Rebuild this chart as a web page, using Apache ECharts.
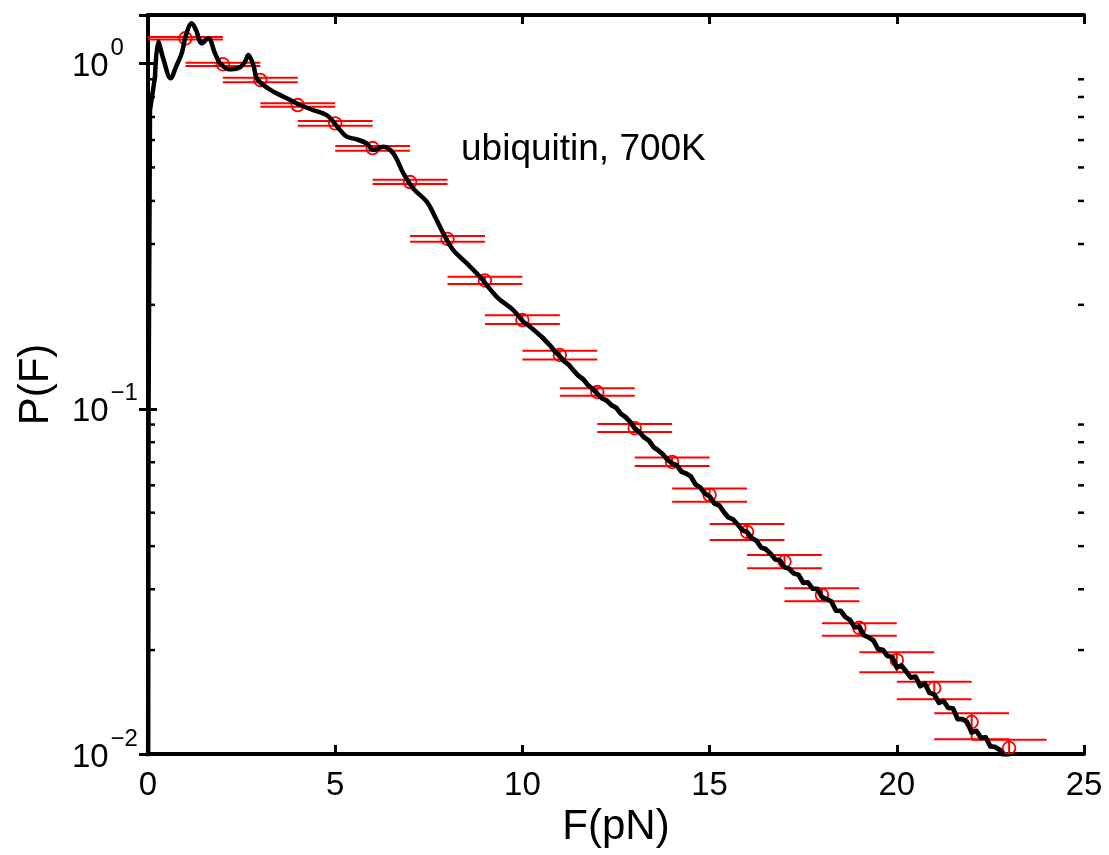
<!DOCTYPE html>
<html>
<head>
<meta charset="utf-8">
<script src="https://cdn.jsdelivr.net/npm/echarts@6/dist/echarts.min.js"></script>
<style>html,body{margin:0;padding:0;background:#fff}#c{width:1109px;height:855px}</style>
</head>
<body>
<div id="c"></div>
<script>
// ---------- data ----------
const xTicks = [0, 5, 10, 15, 20, 25];
const yMajorTicks = [0.01, 0.1, 1];
const minorTicks = [0.02,0.03,0.04,0.05,0.06,0.07,0.08,0.09,0.2,0.3,0.4,0.5,0.6,0.7,0.8,0.9];

const errX = [1,2,3,4,5,6,7,8,9,10,11,12,13,14,15,16,17,18,19,20,21,22,23];
const errCenter = [1.183,0.995,0.896,0.758,0.671,0.569,0.4536,0.3102,0.2352,0.1807,0.1431,0.1118,0.0879,0.0701,0.0563,0.0440,0.0361,0.0289,0.0232,0.0187,0.01553,0.01238,0.01041];
const errHigh   = [1.193,1.0053,0.910,0.767,0.682,0.577,0.4607,0.3165,0.2412,0.1865,0.1473,0.1146,0.0903,0.0722,0.0588,0.0464,0.0377,0.0302,0.0239,0.0197,0.01620,0.01312,0.01100];
const errLow    = [1.173,0.9835,0.882,0.750,0.660,0.559,0.4477,0.3047,0.2298,0.1759,0.1390,0.1091,0.0856,0.0683,0.0538,0.0417,0.0345,0.0277,0.0220,0.01725,0.01440,0.01103,0.00963];

// smooth low-force part of the P(F) curve
const headX = [0.0,0.015,0.053,0.187,0.275,0.41,0.606,0.75,0.900,1.015,1.167,1.282,1.434,1.611,1.790,1.923,2.102,2.236,2.457,2.591,2.679,2.813,2.903,3.080,3.347,3.705,4.060,4.415,4.773,4.949,5.128,5.307,5.574,5.841,6.018,6.285,6.552,6.819,7.086,7.444,7.666,7.887,8.154,8.512,8.868,9.314,9.757,10.024,10.203,10.558];
const headY = [0.004,0.1,0.733,0.915,1.157,1.03,0.906,0.98,1.070,1.209,1.307,1.25,1.144,1.183,1.070,1.001,0.968,0.962,0.975,1.012,1.058,0.990,0.906,0.866,0.829,0.793,0.758,0.733,0.709,0.678,0.642,0.614,0.603,0.587,0.562,0.574,0.549,0.481,0.434,0.398,0.360,0.322,0.288,0.264,0.241,0.211,0.193,0.1787,0.1728,0.160];
// noisy high-force tail of the curve
const tailX = [10.558,10.625,10.75,10.875,11.0,11.125,11.25,11.375,11.5,11.625,11.75,11.875,12.0,12.125,12.25,12.375,12.5,12.625,12.75,12.875,13.0,13.125,13.25,13.375,13.5,13.625,13.75,13.875,14.0,14.125,14.25,14.375,14.5,14.625,14.75,14.875,15.0,15.125,15.25,15.375,15.5,15.625,15.75,15.875,16.0,16.125,16.25,16.375,16.5,16.625,16.75,16.875,17.0,17.125,17.25,17.375,17.5,17.625,17.75,17.875,18.0,18.125,18.25,18.375,18.5,18.625,18.75,18.875,19.0,19.125,19.25,19.375,19.5,19.625,19.75,19.875,20.0,20.125,20.25,20.375,20.5,20.625,20.75,20.875,21.0,21.125,21.25,21.375,21.5,21.625,21.75,21.875,22.0,22.125,22.25,22.375,22.5,22.625,22.75,22.875,23.0];
const tailY = [0.160,0.1571,0.1521,0.1462,0.1418,0.1369,0.1337,0.1287,0.1245,0.1217,0.1172,0.1141,0.1106,0.1072,0.1057,0.1025,0.1008,0.09679,0.09465,0.09178,0.08767,0.08564,0.08264,0.08093,0.07753,0.07584,0.07382,0.07122,0.06941,0.06858,0.06569,0.06493,0.06366,0.06035,0.05917,0.05682,0.05571,0.05320,0.05258,0.05033,0.04847,0.04781,0.04620,0.04444,0.04395,0.04218,0.04149,0.03964,0.03921,0.03807,0.03663,0.03641,0.03473,0.03440,0.03334,0.03304,0.03132,0.03143,0.03012,0.03009,0.02850,0.02810,0.02767,0.02601,0.02599,0.02493,0.02445,0.02328,0.02339,0.02206,0.02176,0.02134,0.02013,0.02004,0.01923,0.01910,0.01780,0.01804,0.01734,0.01664,0.01676,0.01572,0.01599,0.01504,0.01488,0.01408,0.01424,0.01360,0.01356,0.01263,0.01262,0.01239,0.01154,0.01167,0.01114,0.01117,0.01052,0.01048,0.01028,0.00980,0.00969];

const annotation = 'ubiquitin, 700K';
const xName = 'F(pN)';
const yName = 'P(F)';

// ---------- chart ----------
const FONT = '"Liberation Sans", Arial, Helvetica, sans-serif';
const capHalf = 1;
const smoothFrom = 3;   // index in head where the smoothed part starts
const chart = echarts.init(document.getElementById('c'), null, {renderer: 'canvas'});

const headPts = headX.map((x, i) => [x, headY[i]]);
const tailPts = tailX.map((x, i) => [x, tailY[i]]);
function curveSeries(data, smooth, width) {
  return {
    type: 'line', xAxisIndex: 0, yAxisIndex: 0, z: 4,
    data: data, showSymbol: false, symbol: 'none', smooth: smooth, clip: true,
    lineStyle: {color: '#000', width: width, join: 'round', cap: 'round'}
  };
}

const axisLineStyle = {color: '#000', width: 4};
const tickStyle = {show: true, inside: true, length: 9, lineStyle: {color: '#000', width: 3}};
const option = {
  animation: false,
  backgroundColor: '#fff',
  grid: {left: 148, right: 25, top: 15, bottom: 101},
  xAxis: [{
    type: 'value', min: xTicks[0], max: xTicks[xTicks.length - 1], interval: 5,
    position: 'bottom',
    name: xName, nameLocation: 'middle', nameGap: 51,
    nameTextStyle: {fontFamily: FONT, fontSize: 42, color: '#000'},
    axisLine: {show: true, lineStyle: axisLineStyle},
    axisTick: tickStyle,
    axisLabel: {fontFamily: FONT, fontSize: 33, color: '#000', margin: 15},
    splitLine: {show: false}
  }, {
    type: 'value', min: xTicks[0], max: xTicks[xTicks.length - 1], interval: 5,
    position: 'top',
    axisLine: {show: true, lineStyle: axisLineStyle},
    axisTick: tickStyle,
    axisLabel: {show: false},
    splitLine: {show: false}
  }],
  yAxis: [{
    type: 'log', logBase: 10, min: 0.01, max: 1.382,
    position: 'left',
    name: yName, nameLocation: 'middle', nameGap: 91,
    nameTextStyle: {fontFamily: FONT, fontSize: 42, color: '#000'},
    axisLine: {show: true, lineStyle: axisLineStyle},
    axisTick: tickStyle,
    axisLabel: {show: false},
    splitLine: {show: false}
  }, {
    type: 'log', logBase: 10, min: 0.01, max: 1.382,
    position: 'right',
    axisLine: {show: true, lineStyle: axisLineStyle},
    axisTick: tickStyle,
    axisLabel: {show: false},
    splitLine: {show: false}
  }],
  series: [{
    type: 'custom', name: 'minor', xAxisIndex: 0, yAxisIndex: 0, z: 6,
    data: minorTicks.map(v => [0, v]),
    renderItem: function (params, api) {
      const y = api.coord([0, api.value(1)])[1];
      const cs = params.coordSys;
      const st = {stroke: '#000', lineWidth: 2.5};
      return {type: 'group', children: [
        {type: 'line', shape: {x1: cs.x, y1: y, x2: cs.x + 7, y2: y}, style: st},
        {type: 'line', shape: {x1: cs.x + cs.width, y1: y, x2: cs.x + cs.width - 6, y2: y}, style: st}
      ]};
    }
  }, {
    type: 'custom', name: 'errorbars', xAxisIndex: 0, yAxisIndex: 0, z: 3, clip: true,
    data: errX.map((x, i) => [x, errCenter[i], errHigh[i], errLow[i]]),
    renderItem: function (params, api) {
      const x = api.value(0), c = api.value(1), hi = api.value(2), lo = api.value(3);
      const pc = api.coord([x, c]);
      const pH = api.coord([x, hi]), pL = api.coord([x, lo]);
      const pHl = api.coord([x - capHalf, hi]), pHr = api.coord([x + capHalf, hi]);
      const pLl = api.coord([x - capHalf, lo]), pLr = api.coord([x + capHalf, lo]);
      const st = {stroke: '#ff0000', lineWidth: 2, fill: 'transparent'};
      return {type: 'group', children: [
        {type: 'line', shape: {x1: pH[0], y1: pH[1], x2: pL[0], y2: pL[1]}, style: st},
        {type: 'line', shape: {x1: pHl[0], y1: pHl[1], x2: pHr[0], y2: pHr[1]}, style: st},
        {type: 'line', shape: {x1: pLl[0], y1: pLl[1], x2: pLr[0], y2: pLr[1]}, style: st},
        {type: 'circle', shape: {cx: pc[0], cy: pc[1], r: 6.3}, style: {stroke: '#ff0000', lineWidth: 1.8, fill: 'transparent'}}
      ]};
    }
  },
  curveSeries(headPts.slice(0, smoothFrom + 1), false, 4.5),
  curveSeries(headPts.slice(smoothFrom), 0.35, 4.5),
  curveSeries(tailPts, false, 4.8)
  ]
};
chart.setOption(option);

// y tick labels "10^e" placed at the axis' own tick positions
const graphics = [{
  type: 'text', x: 461, y: 150,
  style: {text: annotation, fontFamily: FONT, fontSize: 37, fill: '#000',
          align: 'left', verticalAlign: 'middle', textAlign: 'left', textVerticalAlign: 'middle'}
}];
yMajorTicks.forEach(v => {
  const py = chart.convertToPixel({yAxisIndex: 0}, v);
  const e = Math.round(Math.log10(v));
  const expText = e < 0 ? '\u2212' + (-e) : String(e);
  graphics.push({
    type: 'text', x: 72, y: py + 3.5,
    style: {text: '10', fontFamily: FONT, fontSize: 33, fill: '#000',
            align: 'left', verticalAlign: 'middle', textAlign: 'left', textVerticalAlign: 'middle'}
  });
  graphics.push({
    type: 'text', x: 110.5, y: py - 15,
    style: {text: expText, fontFamily: FONT, fontSize: 24, fill: '#000',
            align: 'left', verticalAlign: 'middle', textAlign: 'left', textVerticalAlign: 'middle'}
  });
});
chart.setOption({graphic: graphics});
</script>
</body>
</html>
